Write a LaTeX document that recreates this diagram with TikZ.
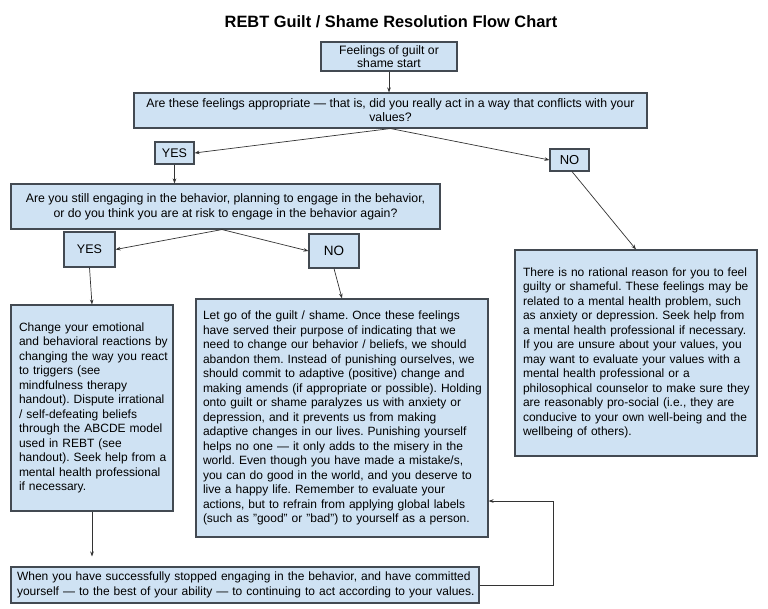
\documentclass[tikz,border=0pt]{standalone}
\usepackage{fontspec}
\setmainfont{Liberation Sans}
\usetikzlibrary{arrows.meta}
\definecolor{boxfill}{HTML}{CFE2F3}
\definecolor{boxline}{HTML}{434A52}
\definecolor{arrline}{HTML}{333333}
\newcommand\LL[1]{\mbox{#1}\\}
\newcommand\LE[1]{\mbox{#1}}
\begin{document}
\begin{tikzpicture}[x=1pt,y=-1pt,
  box/.style 2 args={draw=boxline, line width=1.1pt, fill=boxfill, inner sep=0pt,
    minimum width=#1, minimum height=#2},
  txt/.style={font=\fontsize{12}{14.5}\selectfont\frenchspacing},
  arr/.style={draw=arrline, line width=0.7pt, -{Stealth[length=5pt,width=3.6pt]}}]
\useasboundingbox (0,0) rectangle (768,609);
\fill[white] (0,0) rectangle (768,609);

\node[font=\bfseries\fontsize{16.4}{19}\selectfont] (title) at (391,22) {REBT Guilt / Shame Resolution Flow Chart};

\node[box={136pt}{29pt}, align=center, font=\fontsize{12.2}{13.5}\selectfont] (box1) at (389,56.5)
  {Feelings of guilt or\\shame start};
\node[box={513pt}{35pt}, align=center, font=\fontsize{12.3}{14}\selectfont\frenchspacing] (box2) at (390.5,110.5)
  {Are these feelings appropriate — that is, did you really act in a way that conflicts with your\\values?};
\node[box={39pt}{22pt}, font=\fontsize{12.5}{14}\selectfont] (yes1) at (174.5,153) {YES};
\node[box={39pt}{22pt}, font=\fontsize{13}{14}\selectfont] (no1) at (569.5,160) {NO};
\node[box={429pt}{45pt}, align=center, font=\fontsize{12.3}{15}\selectfont\frenchspacing] (box3) at (225.5,206.5)
  {Are you still engaging in the behavior, planning to engage in the behavior,\\or do you think you are at risk to engage in the behavior again?};
\node[box={51pt}{35pt}, font=\fontsize{12.5}{14}\selectfont] (yes2) at (89.5,249.5) {YES};
\node[box={50pt}{34pt}, font=\fontsize{13.5}{14}\selectfont] (no2) at (334,251) {NO};

\node[box={162pt}{206pt}, txt, align=left, text width=146pt] (lbox) at (92,408)
  {\LL{Change your emotional}\LL{and behavioral reactions by}\LL{changing the way you react}\LL{to triggers (see}\LL{mindfulness therapy}\LL{handout). Dispute irrational}\LL{/ self-defeating beliefs}\LL{through the ABCDE model}\LL{used in REBT (see}\LL{handout). Seek help from a}\LL{mental health professional}\LE{if necessary.}};

\node[box={292pt}{238pt}, txt, align=left, text width=278pt] (mbox) at (342,418)
  {\LL{Let go of the guilt / shame. Once these feelings}\LL{have served their purpose of indicating that we}\LL{need to change our behavior / beliefs, we should}\LL{abandon them. Instead of punishing ourselves, we}\LL{should commit to adaptive (positive) change and}\LL{making amends (if appropriate or possible). Holding}\LL{onto guilt or shame paralyzes us with anxiety or}\LL{depression, and it prevents us from making}\LL{adaptive changes in our lives. Punishing yourself}\LL{helps no one — it only adds to the misery in the}\LL{world. Even though you have made a mistake/s,}\LL{you can do good in the world, and you deserve to}\LL{live a happy life. Remember to evaluate your}\LL{actions, but to refrain from applying global labels}\LE{(such as "good" or "bad") to yourself as a person.}};

\node[box={242pt}{206pt}, txt, align=left, text width=226pt] (rbox) at (636,353)
  {\LL{There is no rational reason for you to feel}\LL{guilty or shameful. These feelings may be}\LL{related to a mental health problem, such}\LL{as anxiety or depression. Seek help from}\LL{a mental health professional if necessary.}\LL{If you are unsure about your values, you}\LL{may want to evaluate your values with a}\LL{mental health professional or a}\LL{philosophical counselor to make sure they}\LL{are reasonably pro-social (i.e., they are}\LL{conducive to your own well-being and the}\LE{wellbeing of others).}};

\node[box={468pt}{36pt}, txt, align=left, text width=456pt, font=\fontsize{12}{15}\selectfont] (bbox) at (245,585)
  {\LL{When you have successfully stopped engaging in the behavior, and have committed}\LE{yourself — to the best of your ability — to continuing to act according to your values.}};

% connectors
\draw[arr] (box1.south) -- (box1.south |- box2.north);
\coordinate (b2) at (box2.south);
\draw[arr] (b2) -- (yes1.east);
\draw[arr] (b2) -- (no1.west);
\draw[arr] (yes1.south) -- (yes1.south |- box3.north);
\coordinate (b3) at ([xshift=-3.5pt]box3.south);
\draw[arr] (b3) -- (yes2.east);
\draw[arr] (b3) -- (no2.west);
\draw[arr] (yes2.south) -- (lbox.north);
\draw[arr] (no2.south) -- (mbox.north);
\draw[arr] ([xshift=2.5pt]no1.south) -- (rbox.north);
\draw[arr, shorten >=10pt] (lbox.south) -- (lbox.south |- bbox.north);
\coordinate (fb) at (553,501);
\draw[arr] (bbox.east) -| (fb) -- (fb -| mbox.east);
\end{tikzpicture}
\end{document}
